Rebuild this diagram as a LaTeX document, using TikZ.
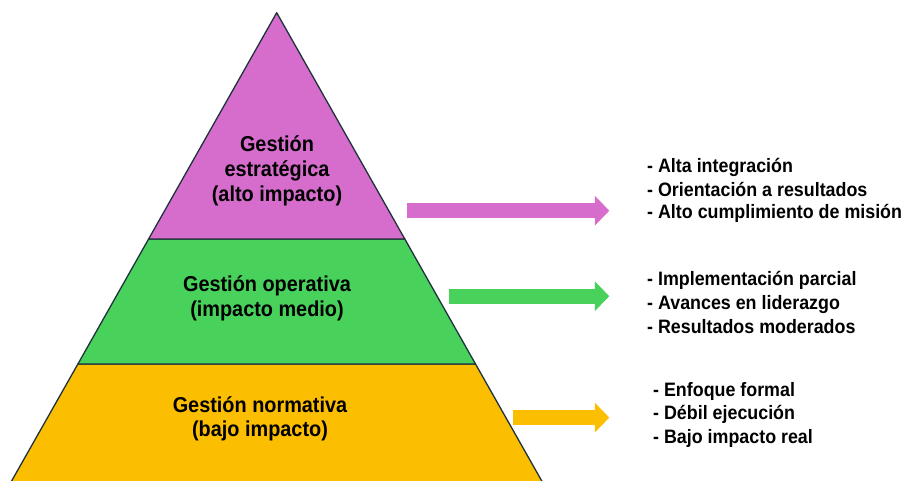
\documentclass[tikz,border=0pt]{standalone}
\usepackage{fontspec}
\setmainfont{Liberation Sans}
\newfontfamily\condfont[FakeStretch=0.92]{Liberation Sans}
\usetikzlibrary{arrows.meta}
\definecolor{magentalayer}{RGB}{214,108,204}
\definecolor{greenlayer}{RGB}{72,210,92}
\definecolor{yellowlayer}{RGB}{252,190,0}
\definecolor{edgecol}{RGB}{30,50,60}
\tikzset{
  layer/.style={draw=edgecol, line width=1.3pt, line join=round},
  pyrtext/.style={inner sep=0pt, anchor=base, font=\condfont\fontsize{21.6}{25}\selectfont\bfseries},
  listtext/.style={inner sep=0pt, anchor=base west, font=\condfont\fontsize{19.4}{23}\selectfont\bfseries},
  bigarrow/.style={line width=15pt, -{Triangle[length=14.5pt,width=29pt]}},
}
\begin{document}
\begin{tikzpicture}[x=1pt,y=-1pt]
\useasboundingbox (0,0) rectangle (908,481);
\clip (0,0) rectangle (908,481);
% pyramid layers
\coordinate (apex) at (276.7,12.7);
\coordinate (l1) at (148.6,239);
\coordinate (r1) at (404.8,239);
\coordinate (l2) at (77.9,364);
\coordinate (r2) at (475.5,364);
\coordinate (l3) at (6.5,490);
\coordinate (r3) at (546.9,490);
\filldraw[layer, fill=yellowlayer] (l2) -- (r2) -- (r3) -- (l3) -- cycle;
\filldraw[layer, fill=greenlayer] (l1) -- (r1) -- (r2) -- (l2) -- cycle;
\filldraw[layer, fill=magentalayer] (apex) -- (r1) -- (l1) -- cycle;
% pyramid labels
\node[pyrtext] (p1a) at (277,151.7) {Gestión};
\node[pyrtext] (p1b) at (277,176.7) {estratégica};
\node[pyrtext] (p1c) at (277,201.7) {(alto impacto)};
\node[pyrtext] (p2a) at (267,291.7) {Gestión operativa};
\node[pyrtext] (p2b) at (267,316.7) {(impacto medio)};
\node[pyrtext] (p3a) at (260,412) {Gestión normativa};
\node[pyrtext] (p3b) at (260,436.7) {(bajo impacto)};
% arrows
\coordinate (a1s) at (406.7,210.7);
\coordinate (a1e) at (609.3,210.7);
\coordinate (a2s) at (449.3,296.2);
\coordinate (a2e) at (609.3,296.2);
\coordinate (a3s) at (512.5,417.6);
\coordinate (a3e) at (609.3,417.6);
\draw[bigarrow, draw=magentalayer, fill=magentalayer] (a1s) -- (a1e);
\draw[bigarrow, draw=greenlayer, fill=greenlayer] (a2s) -- (a2e);
\draw[bigarrow, draw=yellowlayer, fill=yellowlayer] (a3s) -- (a3e);
% lists
\node[listtext] (t1a) at (647,173) {- Alta integración};
\node[listtext] (t1b) at (647,196.5) {- Orientación a resultados};
\node[listtext] (t1c) at (647,219) {- Alto cumplimiento de misión};
\node[listtext] (t2a) at (647,286) {- Implementación parcial};
\node[listtext] (t2b) at (647,309.5) {- Avances en liderazgo};
\node[listtext] (t2c) at (647,333) {- Resultados moderados};
\node[listtext] (t3a) at (653,396) {- Enfoque formal};
\node[listtext] (t3b) at (653,419.5) {- Débil ejecución};
\node[listtext] (t3c) at (653,443) {- Bajo impacto real};
\end{tikzpicture}
\end{document}
